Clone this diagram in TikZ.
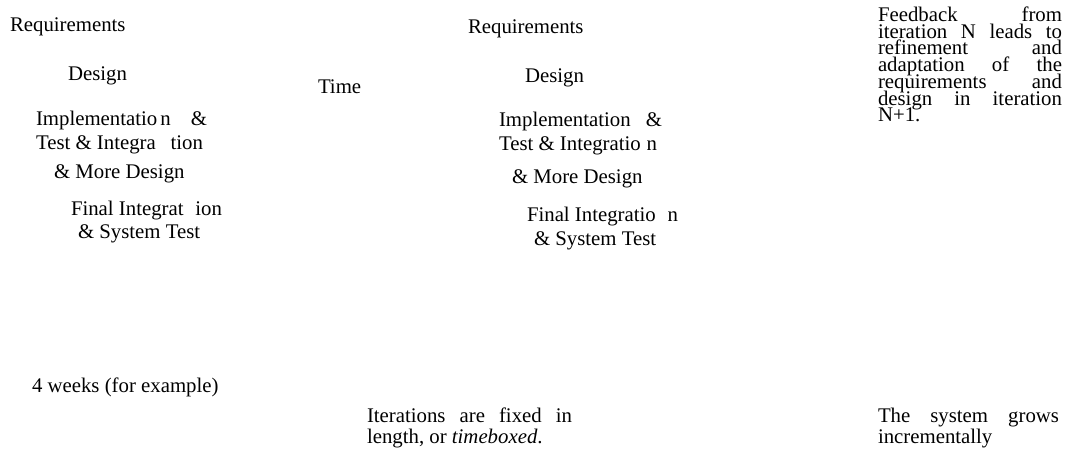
\documentclass[tikz,border=0pt]{standalone}
\usepackage{fontspec}
\setmainfont{Liberation Serif}
\begin{document}
\begin{tikzpicture}[x=1pt,y=-1pt,
  txt/.style={anchor=base west,inner sep=0pt,outer sep=0pt,font=\fontsize{20.8pt}{24pt}\selectfont}]
\path[use as bounding box,fill=white] (0,0) rectangle (1070,450);
% left iteration
\node[txt] (lreq) at (10,31) {Requirements};
\node[txt] (ldes) at (68,80) {Design};
\node[txt] (time) at (318,93) {Time};
\node[txt] (limp1) at (36,125) {\hbox to 171pt{Implementatio\hspace{3pt}n\hfill\&}};
\node[txt] (limp2) at (36,149) {\hbox to 167pt{Test \& Integra\hfill tion}};
\node[txt] (limp3) at (54,178) {\& More Design};
\node[txt] (lfin1) at (71,215) {\hbox to 151pt{Final Integrat\hfill ion}};
\node[txt] (lfin2) at (78,238) {\& System Test};
% right iteration
\node[txt] (rreq) at (468,33) {Requirements};
\node[txt] (rdes) at (525,82) {Design};
\node[txt] (rimp1) at (499,126) {\hbox to 163pt{Implementation\hfill\&}};
\node[txt] (rimp2) at (499,150) {\hbox to 158pt{Test \& Integratio\hfill n}};
\node[txt] (rimp3) at (512,183) {\& More Design};
\node[txt] (rfin1) at (527,221) {\hbox to 151pt{Final Integratio\hfill n}};
\node[txt] (rfin2) at (534,245) {\& System Test};
% feedback
\node[txt] (fb1) at (878,21.5) {\hbox to 184pt{Feedback\hfill from}};
\node[txt] (fb2) at (878,38.2) {\hbox to 184pt{iteration\hfill N\hfill leads\hfill to}};
\node[txt] (fb3) at (878,54.9) {\hbox to 184pt{refinement\hfill and}};
\node[txt] (fb4) at (878,71.6) {\hbox to 184pt{adaptation\hfill of\hfill the}};
\node[txt] (fb5) at (878,88.3) {\hbox to 184pt{requirements\hfill and}};
\node[txt] (fb6) at (878,105.0) {\hbox to 184pt{design\hfill in\hfill iteration}};
\node[txt] (fb7) at (878,121.7) {N+1.};
% bottom
\node[txt] (weeks) at (32,392) {4 weeks (for example)};
\node[txt] (it1) at (367,422) {\hbox to 205pt{Iterations\hfill are\hfill fixed\hfill in}};
\node[txt] (it2) at (367,443) {length, or \textit{timeboxed}.};
\node[txt] (gr1) at (878,422) {\hbox to 181pt{The\hfill system\hfill grows}};
\node[txt] (gr2) at (878,443) {incrementally};
\end{tikzpicture}
\end{document}
